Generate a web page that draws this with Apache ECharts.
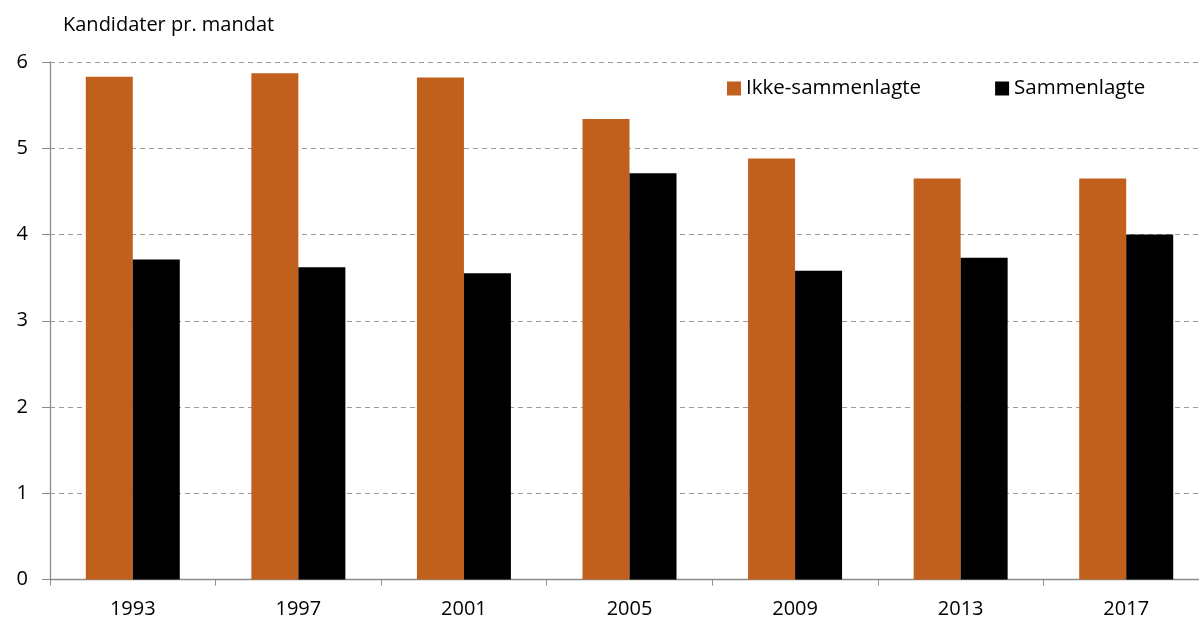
<!DOCTYPE html>
<html><head><meta charset="utf-8">
<script src="https://cdn.jsdelivr.net/npm/echarts@6/dist/echarts.min.js"></script>
<style>html,body{margin:0;padding:0;background:#fff;overflow:hidden;width:1199px;height:621px}#c{width:1210px;height:621px}</style>
</head><body><div id="c"></div>
<script>
const categories = ['1993','1997','2001','2005','2009','2013','2017'];
const ikkeSammenlagte = [5.83, 5.87, 5.82, 5.34, 4.88, 4.65, 4.65];
const sammenlagte = [3.71, 3.62, 3.55, 4.71, 3.58, 3.73, 4.00];
const yTicks = [0, 1, 2, 3, 4, 5, 6];

const font = '"Open Sans", "Noto Sans", sans-serif';
const chart = echarts.init(document.getElementById('c'), null, {renderer: 'canvas'});
chart.setOption({
  animation: false,
  textStyle: {fontFamily: font},
  title: {
    text: 'Kandidater pr. mandat', left: 58, top: 10,
    textStyle: {fontSize: 20, fontWeight: 'normal', color: '#000', fontFamily: font}
  },
  legend: {
    left: 722, top: 73, itemWidth: 14, itemHeight: 14, itemGap: 74,
    icon: 'rect',
    textStyle: {fontSize: 20.5, color: '#000', fontFamily: font},
    data: ['Ikke-sammenlagte', 'Sammenlagte']
  },
  grid: {left: 50, right: 1, top: 62, bottom: 41.5, containLabel: false},
  xAxis: {
    type: 'category', data: categories,
    axisLine: {lineStyle: {color: '#8c8c8c', width: 1.3}},
    axisTick: {show: true, length: 6, lineStyle: {color: '#8c8c8c'}},
    axisLabel: {fontSize: 20, color: '#000', margin: 20, fontFamily: font}
  },
  yAxis: {
    type: 'value', min: yTicks[0], max: yTicks[yTicks.length - 1], interval: 1,
    axisLine: {show: true, lineStyle: {color: '#8c8c8c', width: 1.3}},
    axisTick: {show: true, length: 8, lineStyle: {color: '#8c8c8c'}},
    axisLabel: {fontSize: 20, color: '#000', margin: 22, fontFamily: font},
    splitLine: {lineStyle: {color: '#9a9a9a', type: [5, 4], width: 1}}
  },
  series: [
    {name: 'Ikke-sammenlagte', type: 'bar', data: ikkeSammenlagte, barWidth: 47, barGap: '0%',
     itemStyle: {color: '#C0601C'}},
    {name: 'Sammenlagte', type: 'bar', data: sammenlagte, barWidth: 47, barGap: '0%',
     itemStyle: {color: '#000000'}}
  ]
});
</script></body></html>
